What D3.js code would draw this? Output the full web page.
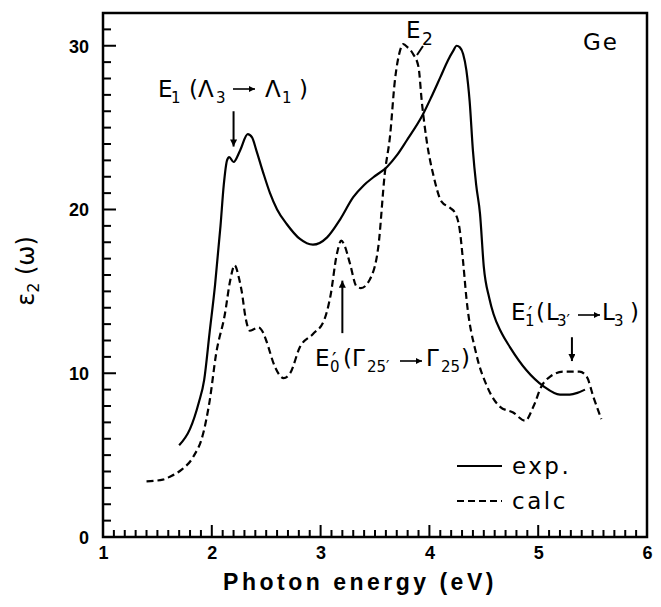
<!DOCTYPE html>
<html>
<head>
<meta charset="utf-8">
<script src="https://cdn.jsdelivr.net/npm/d3@7"></script>
<style>
  body { margin: 0; background: #fff; }
  text { fill: #000; }
  .ann { font-family: "DejaVu Sans", sans-serif; font-size: 23px; }
  .num { font-family: "Liberation Sans", Arial, sans-serif; font-weight: bold; font-size: 18px; }
</style>
</head>
<body>
<svg id="chart" width="661" height="607"></svg>
<script>
// measured spectrum (solid line)
const expE = [1.70, 1.80, 1.88, 1.93, 1.98, 2.03, 2.08, 2.11, 2.14, 2.16, 2.20, 2.26, 2.33, 2.37, 2.41, 2.47, 2.535, 2.60, 2.69, 2.81, 2.93, 3.06, 3.18, 3.30, 3.40, 3.485, 3.61, 3.70, 3.79, 3.94, 4.02, 4.10, 4.17, 4.22, 4.25, 4.28, 4.31, 4.34, 4.37, 4.40, 4.43, 4.465, 4.50, 4.55, 4.59, 4.66, 4.74, 4.89, 5.05, 5.20, 5.29, 5.36, 5.43];
const expEps = [5.6, 6.6, 8.2, 9.6, 12.5, 15.4, 19.0, 21.5, 23.0, 23.2, 22.9, 23.6, 24.6, 24.4, 23.6, 22.3, 21.0, 20.0, 19.1, 18.2, 17.85, 18.3, 19.4, 20.75, 21.5, 21.97, 22.6, 23.3, 24.2, 25.8, 26.9, 28.07, 29.1, 29.7, 30.0, 29.9, 29.5, 28.5, 26.6, 23.6, 21.5, 19.75, 16.5, 14.6, 13.6, 12.5, 11.6, 10.2, 9.2, 8.7, 8.7, 8.8, 9.0];

// calculated spectrum (dashed line)
const calcE = [1.40, 1.55, 1.62, 1.72, 1.83, 1.92, 1.98, 2.04, 2.12, 2.17, 2.21, 2.25, 2.275, 2.31, 2.35, 2.39, 2.43, 2.47, 2.50, 2.58, 2.66, 2.72, 2.81, 2.93, 3.03, 3.09, 3.15, 3.19, 3.22, 3.27, 3.33, 3.37, 3.45, 3.53, 3.59, 3.64, 3.68, 3.73, 3.76, 3.80, 3.85, 3.90, 3.93, 3.975, 4.04, 4.11, 4.19, 4.235, 4.28, 4.31, 4.34, 4.43, 4.53, 4.65, 4.77, 4.88, 4.955, 5.03, 5.11, 5.23, 5.38, 5.445, 5.51, 5.58];
const calcEps = [3.4, 3.5, 3.7, 4.1, 4.9, 6.3, 8.3, 11.2, 13.6, 15.7, 16.6, 15.8, 15.0, 13.4, 12.6, 12.7, 12.8, 12.5, 12.0, 10.4, 9.7, 10.0, 11.6, 12.4, 13.2, 14.7, 17.3, 18.1, 17.8, 16.7, 15.3, 15.2, 15.7, 17.7, 22.2, 24.6, 27.7, 29.7, 30.1, 29.9, 29.5, 28.7, 26.6, 24.2, 22.0, 20.5, 20.1, 19.8, 18.7, 16.8, 14.6, 11.2, 9.2, 7.95, 7.6, 7.1, 7.95, 9.2, 9.8, 10.1, 10.1, 9.8, 8.5, 7.2];

const xTickValues = [1, 2, 3, 4, 5, 6];
const yTickValues = [0, 10, 20, 30];
const legendKeys = ['exp.', 'calc'];

const svg = d3.select('#chart');

const x = d3.scaleLinear().domain([1, 6]).range([103, 647]);
const y = d3.scaleLinear().domain([0, 32]).range([537, 13]);

// tick labels via d3 axes
svg.append('g')
    .attr('transform', 'translate(0,' + y(0) + ')')
    .call(d3.axisBottom(x).tickValues(xTickValues).tickSize(0).tickFormat(d3.format('d')))
    .call(g => g.select('.domain').remove())
    .call(g => g.selectAll('text').attr('class', 'num').attr('fill', '#000').attr('y', 0).attr('dy', 22));

svg.append('g')
    .attr('transform', 'translate(' + x(1) + ',0)')
    .call(d3.axisLeft(y).tickValues(yTickValues).tickSize(0).tickFormat(d3.format('d')))
    .call(g => g.select('.domain').remove())
    .call(g => g.selectAll('text').attr('class', 'num').attr('fill', '#000').attr('x', -14).attr('dy', '0.35em'));

// frame
svg.append('path')
    .attr('d', 'M' + x(1) + ',' + y(0) + 'H' + x(6) + 'V' + y(32) + 'H' + x(1) + 'Z')
    .attr('fill', 'none').attr('stroke', '#000').attr('stroke-width', 2.5);

// inward tick marks: every 0.1 eV and every unit, longer at labelled values
const xt = x.ticks(50).map(d => ({v: d, major: Math.abs(d - Math.round(d)) < 1e-6}));
const ytk = d3.range(1, 32, 1).map(d => ({v: d, major: d % 10 === 0}));

svg.append('g').selectAll('rect')
    .data(xt)
    .join('rect')
    .attr('x', d => x(d.v) - 1)
    .attr('y', d => y(0) - (d.major ? 12 : 7))
    .attr('width', 2)
    .attr('height', d => d.major ? 12 : 7)
    .attr('fill', '#000');

svg.append('g').selectAll('rect')
    .data(ytk)
    .join('rect')
    .attr('x', x(1))
    .attr('y', d => y(d.v) - 1)
    .attr('width', d => d.major ? 13 : 8)
    .attr('height', 2)
    .attr('fill', '#000');

const line = d3.line()
    .x(d => x(d[0]))
    .y(d => y(d[1]))
    .curve(d3.curveMonotoneX);

svg.append('path')
    .datum(d3.zip(expE, expEps))
    .attr('d', line)
    .attr('fill', 'none').attr('stroke', '#000').attr('stroke-width', 2.2);

svg.append('path')
    .datum(d3.zip(calcE, calcEps))
    .attr('d', line)
    .attr('fill', 'none').attr('stroke', '#000').attr('stroke-width', 2.2)
    .attr('stroke-dasharray', '7,4');

// arrow heads: a long one for the pointers, a small one inside the labels
const defs = svg.append('defs');
const marker = (id, len, wid) => {
    defs.append('marker')
        .attr('id', id)
        .attr('viewBox', '0 0 10 10')
        .attr('refX', 10).attr('refY', 5)
        .attr('markerWidth', len).attr('markerHeight', wid)
        .attr('markerUnits', 'userSpaceOnUse')
        .attr('orient', 'auto')
        .append('path').attr('d', 'M0,0 L10,5 L0,10 Z').attr('fill', '#000');
};
marker('head', 13, 7);
marker('small', 9, 6);

const arrow = (e, v0, v1) => {
    svg.append('line')
        .attr('x1', x(e)).attr('y1', y(v0))
        .attr('x2', x(e)).attr('y2', y(v1) + (v1 > v0 ? 4 : -4))
        .attr('stroke', '#000').attr('stroke-width', 2)
        .attr('marker-end', 'url(#head)');
};
arrow(2.2, 26.0, 23.6);
arrow(3.2, 12.45, 15.9);
arrow(5.31, 12.2, 10.5);

// annotation: every piece placed at its own offset from the label origin
const label = (px, py, parts, arr) => {
    const t = svg.append('text').attr('class', 'ann');
    parts.forEach(p => {
        t.append('tspan')
            .attr('x', px + p.at)
            .attr('y', py + (p.sub ? 6 : 0))
            .attr('font-size', p.size || (p.sub ? 15 : null))
            .text(p.t);
    });
    svg.append('line')
        .attr('x1', px + arr[0]).attr('x2', px + arr[1])
        .attr('y1', py - arr[2]).attr('y2', py - arr[2])
        .attr('stroke', '#000').attr('stroke-width', 1.6)
        .attr('marker-end', 'url(#small)');
};

label(158, 97, [
    {t: 'E', at: 0}, {t: '1', at: 13, sub: true},
    {t: '(', at: 31}, {t: 'Λ', at: 40}, {t: '3', at: 58, sub: true},
    {t: 'Λ', at: 107}, {t: '1', at: 124, sub: true},
    {t: ')', at: 141}
], [75, 97, 8]);

label(315, 366, [
    {t: 'E', at: 0}, {t: '′', at: 17, size: 20}, {t: '0', at: 15, sub: true},
    {t: '(', at: 28}, {t: 'Γ', at: 37}, {t: '25′', at: 52, sub: true},
    {t: 'Γ', at: 111}, {t: '25', at: 126, sub: true},
    {t: ')', at: 146}
], [85, 107, 5]);

label(511, 320, [
    {t: 'E', at: 0}, {t: '′', at: 17, size: 20}, {t: '1', at: 14, sub: true},
    {t: '(', at: 25}, {t: 'L', at: 35}, {t: '3′', at: 46, sub: true},
    {t: 'L', at: 91}, {t: '3', at: 103, sub: true},
    {t: ')', at: 119}
], [67, 89, 5]);

const e2 = svg.append('text').attr('class', 'ann');
e2.append('tspan').attr('x', 406).attr('y', 38).text('E');
e2.append('tspan').attr('x', 422).attr('y', 45).attr('font-size', 17).text('2');
svg.append('line')
    .attr('x1', 423).attr('y1', 46).attr('x2', 417).attr('y2', 55)
    .attr('stroke', '#000').attr('stroke-width', 2);

svg.append('text').attr('class', 'ann')
    .attr('x', 583).attr('y', 50)
    .style('letter-spacing', '2px')
    .text('Ge');

// legend
legendKeys.forEach((k, i) => {
    const ly = 466 + i * 35;
    svg.append('line')
        .attr('x1', 457).attr('x2', 502).attr('y1', ly).attr('y2', ly)
        .attr('stroke', '#000').attr('stroke-width', 2)
        .attr('stroke-dasharray', i === 1 ? '7,4' : null);
    svg.append('text').attr('class', 'ann')
        .attr('x', 512).attr('y', ly + 8)
        .style('letter-spacing', '2.5px')
        .text(k);
});

// axis titles
svg.append('text')
    .attr('x', 360).attr('y', 590)
    .attr('text-anchor', 'middle')
    .style('font-family', '"Liberation Sans", Arial, sans-serif')
    .style('font-weight', 'bold').style('font-size', '23px')
    .style('letter-spacing', '3.5px')
    .text('Photon energy (eV)');

const yt = svg.append('text')
    .attr('transform', 'translate(34,271) rotate(-90)')
    .attr('text-anchor', 'middle')
    .attr('class', 'ann')
    .style('font-size', '24px');
yt.append('tspan').text('ε');
yt.append('tspan').text('2').attr('font-size', 16).attr('dy', 5);
yt.append('tspan').text(' (ω)').attr('dy', -5);
</script>
</body>
</html>
